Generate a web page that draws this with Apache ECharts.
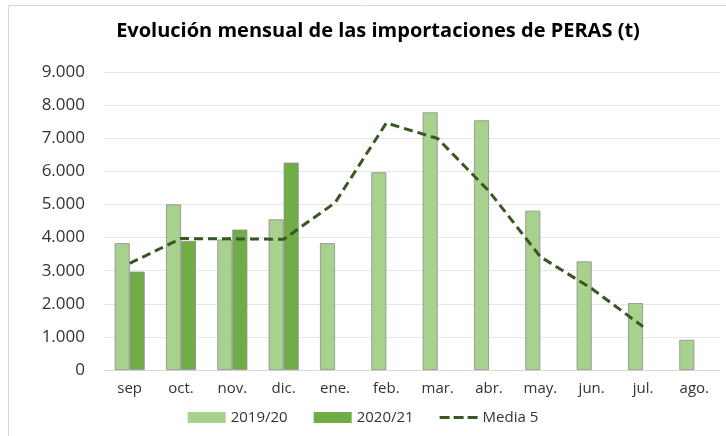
<!DOCTYPE html>
<html>
<head>
<meta charset="utf-8">
<script src="https://cdn.jsdelivr.net/npm/echarts@6/dist/echarts.min.js"></script>
<style>
  html, body { margin: 0; padding: 0; background: #fff; }
  #chart { width: 726px; height: 436px; }
</style>
</head>
<body>
<div id="chart"></div>
<script>
// meses de la campaña
var months = ['sep', 'oct.', 'nov.', 'dic.', 'ene.', 'feb.', 'mar.', 'abr.', 'may.', 'jun.', 'jul.', 'ago.']
var serie1920 = [3830, 5000, 3940, 4550, 3830, 5970, 7780, 7540, 4810, 3280, 2020, 910]
var serie2021 = [2970, 3900, 4240, 6260, null, null, null, null, null, null, null, null]
var media5 = [3220, 3970, 3960, 3950, 5050, 7460, 6990, 5400, 3420, 2460, 1310, null]
var yTicks = [0, 1000, 2000, 3000, 4000, 5000, 6000, 7000, 8000, 9000]

var font = "'Open Sans', sans-serif"
function fmt(v) {
  // separador de miles con punto
  return String(v).replace(/\B(?=(\d{3})+(?!\d))/g, '.')
}
// icono de leyenda: tres guiones
var dashIcon = 'path://M0,4h10v3h-10z M14,4h10v3h-10z M28,4h10v3h-10z M0,0h0.01v11h-0.01z'

var chart = echarts.init(document.getElementById('chart'))
chart.setOption({
  animation: false,
  graphic: [{
    type: 'rect',
    shape: { x: 8.5, y: 5.5, width: 730, height: 440 },
    style: { fill: 'none', stroke: '#d9d9d9', lineWidth: 1 }
  }],
  title: {
    text: 'Evolución mensual de las importaciones de PERAS (t)',
    left: 373,
    textAlign: 'center',
    top: 16,
    textStyle: { fontFamily: font, fontWeight: 'bold', fontSize: 20, color: '#000' }
  },
  legend: {
    bottom: 6,
    left: 'center',
    itemWidth: 38,
    itemHeight: 11,
    itemGap: 26,
    textStyle: { fontFamily: font, fontSize: 15, color: '#333' },
    data: [
      { name: '2019/20', icon: 'rect', itemStyle: { borderWidth: 0 } },
      { name: '2020/21', icon: 'rect', itemStyle: { borderWidth: 0 } },
      { name: 'Media 5', icon: dashIcon, itemStyle: { color: '#385723', borderWidth: 0 } }
    ]
  },
  grid: { left: 104, right: 6, top: 72, bottom: 66 },
  xAxis: {
    type: 'category',
    data: months,
    axisLine: { lineStyle: { color: '#d9d9d9' } },
    axisTick: { show: false },
    axisLabel: { fontFamily: font, fontSize: 15, color: '#333', margin: 11 }
  },
  yAxis: {
    type: 'value',
    min: yTicks[0],
    max: yTicks[yTicks.length - 1],
    interval: 1000,
    axisLine: { show: false },
    axisTick: { show: false },
    splitLine: { lineStyle: { color: '#e6e6e6' } },
    axisLabel: { fontFamily: font, fontSize: 17, color: '#333', margin: 19, formatter: fmt }
  },
  series: [
    {
      name: '2019/20',
      type: 'bar',
      data: serie1920,
      barWidth: 15,
      barGap: '0%',
      itemStyle: { color: '#a9d18e', borderColor: '#8c8c8c', borderWidth: 0.8 }
    },
    {
      name: '2020/21',
      type: 'bar',
      data: serie2021,
      barWidth: 15,
      itemStyle: { color: '#70ad47', borderColor: '#8c8c8c', borderWidth: 0.8 }
    },
    {
      name: 'Media 5',
      type: 'line',
      data: media5,
      symbol: 'none',
      connectNulls: false,
      itemStyle: { color: '#385723' },
      lineStyle: { color: '#385723', width: 3, type: [9, 5] }
    }
  ]
})
</script>
</body>
</html>
